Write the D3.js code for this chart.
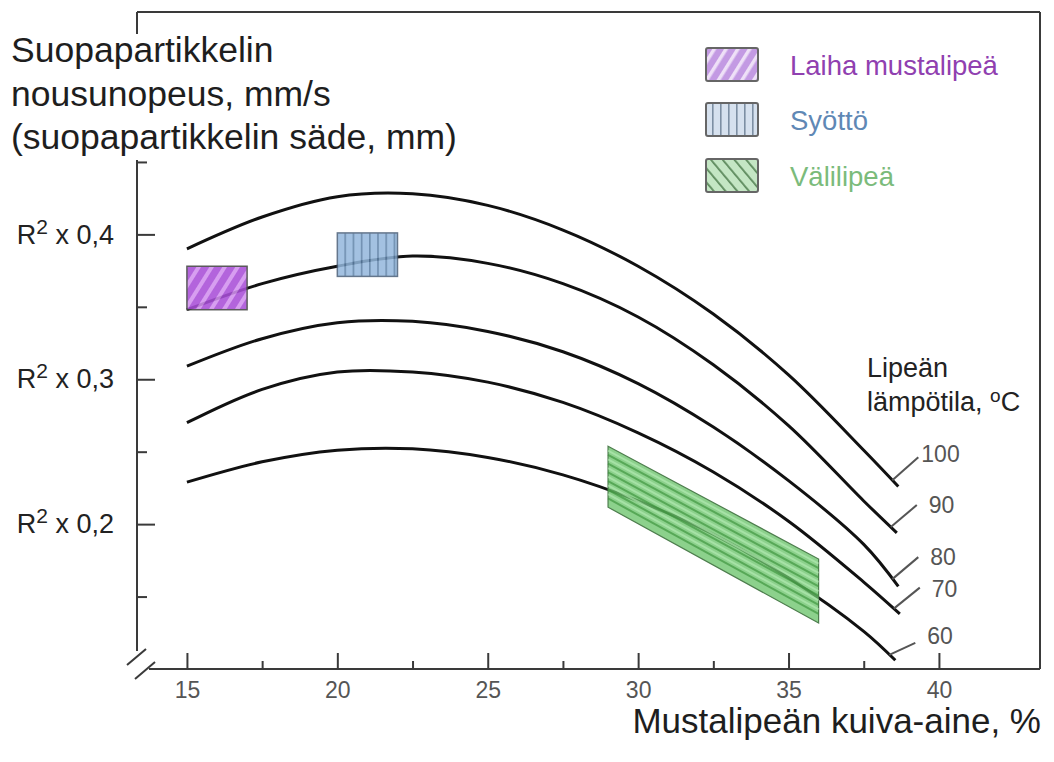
<!DOCTYPE html>
<html><head><meta charset="utf-8">
<script src="https://cdn.jsdelivr.net/npm/d3@7"></script>
<style>
body{margin:0;background:#fff}
svg{display:block}
text{font-family:"Liberation Sans",Arial,Helvetica,sans-serif}
</style>
</head><body>
<svg id="c" width="1054" height="762"></svg>
<script>
// ---- data ----
const xGrid = [15, 17.5, 20, 22.5, 25, 27.5, 30, 32.5, 35, 37.5];
const temps = ["60", "70", "80", "90", "100"];
const curveEndX = [38.55, 38.7, 38.65, 38.6, 38.65];
const curve60  = [0.229, 0.243, 0.251, 0.252, 0.246, 0.234, 0.216, 0.193, 0.163, 0.126, 0.106];
const curve70  = [0.270, 0.293, 0.305, 0.305, 0.298, 0.284, 0.263, 0.236, 0.202, 0.160, 0.138];
const curve80  = [0.309, 0.328, 0.339, 0.340, 0.333, 0.319, 0.297, 0.267, 0.230, 0.186, 0.157];
const curve90  = [0.348, 0.366, 0.378, 0.385, 0.380, 0.366, 0.343, 0.310, 0.268, 0.216, 0.194];
const curve100 = [0.390, 0.412, 0.426, 0.428, 0.420, 0.403, 0.378, 0.345, 0.303, 0.251, 0.226];
const xTicksMajor = [15, 20, 25, 30, 35, 40];
const xTicksMinor = [17.5, 22.5, 27.5, 32.5, 37.5];
const yTicksMajor = [0.2, 0.3, 0.4];
const yTickLabels = ["0,2", "0,3", "0,4"];
const yTicksMinor = [0.15, 0.25, 0.35, 0.45];
const legendNames = ["Laiha mustalipeä", "Syöttö", "Välilipeä"];
const purpleX = [15, 17], purpleY = [0.348, 0.378];
const blueX = [20, 22], blueY = [0.371, 0.401];
const greenX = [29, 36], greenTop = [0.2538, 0.1759], greenBottom = [0.2117, 0.1317];
const titleLines = ["Suopapartikkelin", "nousunopeus, mm/s", "(suopapartikkelin säde, mm)"];
const xTitle = "Mustalipeän kuiva-aine, %";
const tempTitle = ["Lipeän", "lämpötila, "];

// ---- layout ----
const L = 137, R = 1040, T = 12, B = 669;
const x = d3.scaleLinear().domain([13.34, 43.36]).range([L, R]);
const y = d3.scaleLinear().domain([0.1, 0.5535]).range([B, T]);
const svg = d3.select("#c");
const axisCol = "#3a3a3a";
const narrow = "'Liberation Sans Narrow','DejaVu Sans Condensed','Liberation Sans',Arial,sans-serif";

// patterns
const defs = svg.append("defs");
function stripePattern(id, w, bg, fg, sw, rot) {
  const p = defs.append("pattern").attr("id", id).attr("patternUnits", "userSpaceOnUse")
    .attr("width", w).attr("height", w).attr("patternTransform", `rotate(${rot})`);
  p.append("rect").attr("width", w).attr("height", w).attr("fill", bg);
  p.append("rect").attr("x", 0).attr("width", sw).attr("height", w).attr("fill", fg);
}
stripePattern("pPurple", 11, "#a94fd8", "#d291ef", 4, 32);
stripePattern("pBlue", 8.2, "#93b7dc", "#587ca3", 1.6, 0);
stripePattern("lPurple", 10, "#c39ae3", "#eee0f7", 3.5, 32);
stripePattern("lBlue", 8, "#d6e1ee", "#7d8fa3", 1.6, 0);
stripePattern("lGreen", 9, "#c4e6c4", "#5d8a5d", 1.8, -40);

// frame
svg.append("line").attr("x1", L).attr("x2", R).attr("y1", T).attr("y2", T)
  .attr("stroke", axisCol).attr("stroke-width", 2);
svg.append("line").attr("x1", R).attr("x2", R).attr("y1", T).attr("y2", B)
  .attr("stroke", axisCol).attr("stroke-width", 2);
svg.append("line").attr("x1", L).attr("x2", L).attr("y1", T).attr("y2", B - 18)
  .attr("stroke", axisCol).attr("stroke-width", 2);
svg.append("line").attr("x1", L + 12).attr("x2", R).attr("y1", B).attr("y2", B)
  .attr("stroke", axisCol).attr("stroke-width", 2);
// break marks
svg.append("line").attr("x1", L - 10).attr("y1", B - 4).attr("x2", L + 9).attr("y2", B - 20)
  .attr("stroke", axisCol).attr("stroke-width", 2);
svg.append("line").attr("x1", L - 2).attr("y1", B + 10).attr("x2", L + 18).attr("y2", B - 7)
  .attr("stroke", axisCol).attr("stroke-width", 2);

// x axis
const gx = svg.append("g").attr("transform", `translate(0,${B})`)
  .call(d3.axisBottom(x).tickValues(xTicksMajor).tickSize(-16).tickPadding(13).tickFormat(d3.format("d")));
gx.select(".domain").remove();
gx.selectAll(".tick line").attr("stroke", axisCol).attr("stroke-width", 2);
gx.selectAll(".tick text").attr("fill", "#555").attr("font-family", narrow).style("font-size", "23px");
const gx2 = svg.append("g").attr("transform", `translate(0,${B})`)
  .call(d3.axisBottom(x).tickValues(xTicksMinor).tickSize(-8).tickFormat(""));
gx2.select(".domain").remove();
gx2.selectAll(".tick line").attr("stroke", axisCol).attr("stroke-width", 2);

// y axis
const gy = svg.append("g").attr("transform", `translate(${L},0)`)
  .call(d3.axisLeft(y).tickValues(yTicksMajor).tickSize(-18).tickPadding(23));
gy.select(".domain").remove();
gy.selectAll(".tick line").attr("stroke", axisCol).attr("stroke-width", 2);
gy.selectAll(".tick text").each(function(d, i) {
  const t = d3.select(this).text(null).attr("fill", "#222").style("font-size", "27px");
  t.append("tspan").text("R");
  t.append("tspan").attr("dy", -10).style("font-size", "21px").text("2");
  t.append("tspan").attr("dy", 10).text("\u00a0x\u00a0" + yTickLabels[i]);
});
const gy2 = svg.append("g").attr("transform", `translate(${L},0)`)
  .call(d3.axisLeft(y).tickValues(yTicksMinor).tickSize(-10).tickFormat(""));
gy2.select(".domain").remove();
gy2.selectAll(".tick line").attr("stroke", axisCol).attr("stroke-width", 2);

// title block (covers axis)
svg.append("rect").attr("x", 0).attr("y", 34).attr("width", 470).attr("height", 126).attr("fill", "#fff");
svg.append("g").selectAll("text").data(titleLines).join("text")
  .attr("x", 11).attr("y", (d, i) => 62 + i * 43.5)
  .attr("fill", "#1e1e1e").style("font-size", "35.5px").text(d => d);

// curves
const curves = [curve60, curve70, curve80, curve90, curve100];
const line = d3.line().x(d => x(d[0])).y(d => y(d[1])).curve(d3.curveCatmullRom.alpha(0.5));
const series = curves.map((c, k) => c.map((v, i) => [i < xGrid.length ? xGrid[i] : curveEndX[k], v]));
svg.append("g").selectAll("path").data(series).join("path")
  .attr("d", line).attr("fill", "none").attr("stroke", "#111").attr("stroke-width", 3);

// regions
svg.append("rect").attr("x", x(purpleX[0])).attr("y", y(purpleY[1]))
  .attr("width", x(purpleX[1]) - x(purpleX[0])).attr("height", y(purpleY[0]) - y(purpleY[1]))
  .attr("fill", "url(#pPurple)").attr("opacity", 0.88).attr("stroke", "#444").attr("stroke-width", 1.5);
svg.append("rect").attr("x", x(blueX[0])).attr("y", y(blueY[1]))
  .attr("width", x(blueX[1]) - x(blueX[0])).attr("height", y(blueY[0]) - y(blueY[1]))
  .attr("fill", "url(#pBlue)").attr("opacity", 0.85).attr("stroke", "#4a5f78").attr("stroke-width", 1.5);
const gPoly = [[greenX[0], greenTop[0]], [greenX[1], greenTop[1]], [greenX[1], greenBottom[1]], [greenX[0], greenBottom[0]]];
svg.append("path").attr("d", "M" + gPoly.map(p => [x(p[0]), y(p[1])].join(",")).join("L") + "Z")
  .attr("fill", "#6cc46c").attr("fill-opacity", 0.78).attr("stroke", "#4d7d4d").attr("stroke-width", 1.2);
const gStripes = d3.range(1, 7).map(k => k / 7);
svg.append("g").selectAll("line").data(gStripes).join("line")
  .attr("x1", x(greenX[0])).attr("x2", x(greenX[1]))
  .attr("y1", f => y(greenTop[0] + (greenBottom[0] - greenTop[0]) * f))
  .attr("y2", f => y(greenTop[1] + (greenBottom[1] - greenTop[1]) * f))
  .attr("stroke", "#3a923a").attr("stroke-opacity", 0.65).attr("stroke-width", 2);
svg.append("g").selectAll("line").data(gStripes).join("line")
  .attr("x1", x(greenX[0])).attr("x2", x(greenX[1]))
  .attr("y1", f => y(greenTop[0] + (greenBottom[0] - greenTop[0]) * (f - 0.07)))
  .attr("y2", f => y(greenTop[1] + (greenBottom[1] - greenTop[1]) * (f - 0.07)))
  .attr("stroke", "#b8ecb8").attr("stroke-opacity", 0.6).attr("stroke-width", 2);

// temperature labels with leaders
const leaderDy = [-12, -21, -22, -22, -23];
const labelDy = [-7, 1, 0, 0, -3];
const gl = svg.append("g");
series.forEach((s, k) => {
  const ex = curveEndX[k] - 0.2;
  const p = s[s.length - 1], q = s[s.length - 2];
  const ey = p[1] + (q[1] - p[1]) * ((p[0] - ex) / (p[0] - q[0]));
  const x0 = x(ex), y0 = y(ey), x1 = x0 + 26, y1 = y0 + leaderDy[k];
  gl.append("line").attr("x1", x0).attr("y1", y0).attr("x2", x1).attr("y2", y1)
    .attr("stroke", "#555").attr("stroke-width", 2);
  gl.append("text").attr("x", x1 + (temps[k].length > 2 ? 3 : 12)).attr("y", y1 + labelDy[k]).attr("dy", "0.35em")
    .attr("fill", "#555").attr("font-family", narrow).style("font-size", "23px")
    .text(temps[k]);
});
svg.append("text").attr("x", 867).attr("y", 377).attr("fill", "#222").style("font-size", "27px").text(tempTitle[0]);
const tt = svg.append("text").attr("x", 867).attr("y", 411).attr("fill", "#222").style("font-size", "27px");
tt.append("tspan").text(tempTitle[1]);
tt.append("tspan").attr("dy", -9).style("font-size", "19px").text("o");
tt.append("tspan").attr("dy", 9).text("C");

// x title
svg.append("text").attr("x", 1041).attr("y", 733).attr("text-anchor", "end")
  .attr("fill", "#1e1e1e").style("font-size", "35px").text(xTitle);

// legend
const legFill = ["url(#lPurple)", "url(#lBlue)", "url(#lGreen)"];
const legText = ["#9040b0", "#5f88b5", "#7bbb7b"];
const legY = [48, 103, 159];
const lg = svg.append("g");
legendNames.forEach((n, i) => {
  lg.append("rect").attr("x", 706).attr("y", legY[i]).attr("width", 52).attr("height", 33)
    .attr("fill", legFill[i]).attr("stroke", "#666").attr("stroke-width", 2).attr("rx", 2);
  lg.append("text").attr("x", 790).attr("y", legY[i] + 17).attr("dy", "0.35em")
    .attr("fill", legText[i]).style("font-size", "27.5px").text(n);
});
</script>
</body></html>
